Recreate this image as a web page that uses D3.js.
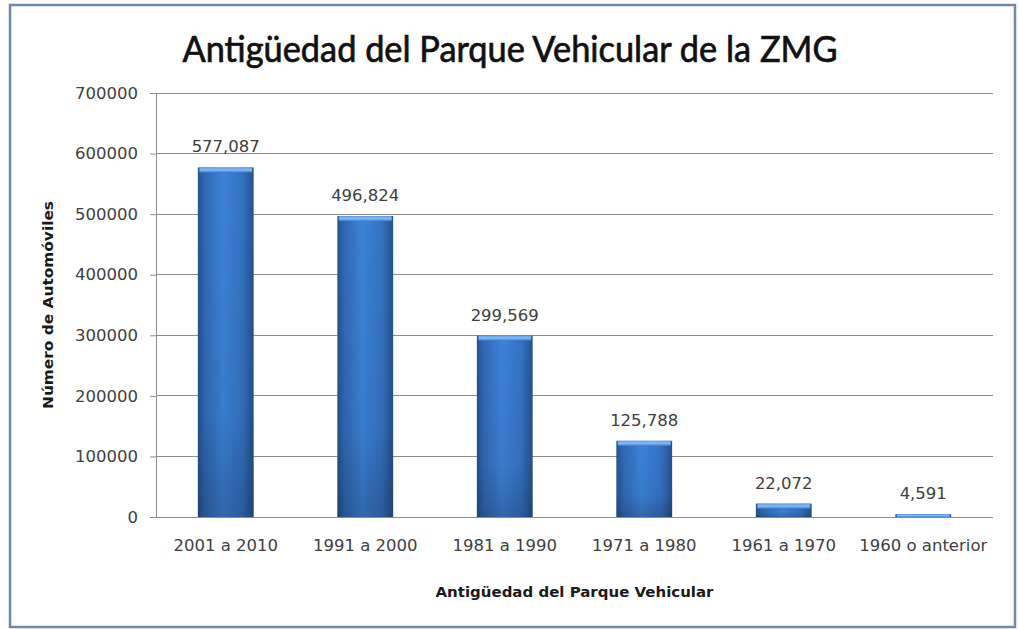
<!DOCTYPE html>
<html><head><meta charset="utf-8">
<script src="https://cdn.jsdelivr.net/npm/d3@7"></script>
<style>html,body{margin:0;padding:0;background:#fff;}svg{display:block;}</style>
</head><body>
<script>
const categories = ["2001 a 2010","1991 a 2000","1981 a 1990","1971 a 1980","1961 a 1970","1960 o anterior"];
const values = [577087, 496824, 299569, 125788, 22072, 4591];
const valueLabels = ["577,087","496,824","299,569","125,788","22,072","4,591"];
const yTicks = [0,100000,200000,300000,400000,500000,600000,700000];
const titleText = "Antigüedad del Parque Vehicular de la ZMG";
const xTitle = "Antigüedad del Parque Vehicular";
const yTitle = "Número de Automóviles";

(function(){
const W = 1019, H = 629;
const svg = d3.select("body").append("svg").attr("width", W).attr("height", H);
const defs = svg.append("defs");
const g1 = defs.append("linearGradient").attr("id","barg").attr("x1","0").attr("x2","1").attr("y1","0").attr("y2","0");
[["0%","#24528f"],["12%","#3068b3"],["45%","#3d82d8"],["80%","#3471c2"],["100%","#24528f"]].forEach(s=>g1.append("stop").attr("offset",s[0]).attr("stop-color",s[1]));
const g2 = defs.append("linearGradient").attr("id","shade").attr("x1","0").attr("x2","0").attr("y1","0").attr("y2","1");
[["0%","#000",0],["70%","#000",0.05],["100%","#000",0.2]].forEach(s=>g2.append("stop").attr("offset",s[0]).attr("stop-color",s[1]).attr("stop-opacity",s[2]));
const g3 = defs.append("linearGradient").attr("id","cap").attr("x1","0").attr("x2","0").attr("y1","0").attr("y2","1");
[["0%","#5f9be6"],["50%","#86bbf5"],["100%","#3d80d4"]].forEach(s=>g3.append("stop").attr("offset",s[0]).attr("stop-color",s[1]));

const FONT = "'DejaVu Sans', sans-serif";
const FS = 16.5;

// frame
svg.append("rect").attr("x",10).attr("y",5).attr("width",1005).attr("height",622)
  .attr("fill","#fff").attr("stroke","#7088ac").attr("stroke-width",2.5);

const pLeft = 156, pRight = 993, pTop = 93, pBottom = 517;
const x = d3.scaleBand().domain(categories).range([pLeft,pRight]).paddingInner(0.6).paddingOuter(0.3);
const y = d3.scaleLinear().domain([0,700000]).range([pBottom,pTop]);

// gridlines
svg.append("g").selectAll("line").data(yTicks.filter(d=>d>0)).join("line")
  .attr("x1",pLeft).attr("x2",pRight).attr("y1",d=>y(d)).attr("y2",d=>y(d))
  .attr("stroke","#8c8c8c").attr("stroke-width",1).attr("shape-rendering","crispEdges");

// y axis
const yAxis = svg.append("g").attr("transform",`translate(${pLeft},0)`)
  .call(d3.axisLeft(y).tickValues(yTicks).tickSize(6).tickPadding(12).tickFormat(d3.format("d")));
yAxis.select(".domain").attr("stroke","#8c8c8c");
yAxis.selectAll(".tick line").attr("stroke","#8c8c8c");
yAxis.selectAll("text").attr("font-family",FONT).attr("font-size",FS).attr("fill","#404040");

// x axis
const xAxis = svg.append("g").attr("transform",`translate(0,${pBottom})`)
  .call(d3.axisBottom(x).tickSize(0).tickPadding(22));
xAxis.select(".domain").attr("stroke","#8c8c8c").attr("d",`M${pLeft},0.5H${pRight}`);
xAxis.selectAll("text").attr("font-family",FONT).attr("font-size",FS).attr("fill","#404040");

// bars
const bars = svg.append("g").selectAll("g").data(values).join("g");
bars.append("rect").attr("x",(d,i)=>x(categories[i])).attr("y",d=>y(d))
  .attr("width",x.bandwidth()).attr("height",d=>pBottom-y(d)).attr("fill","url(#barg)");
bars.append("rect").attr("x",(d,i)=>x(categories[i])).attr("y",d=>y(d))
  .attr("width",x.bandwidth()).attr("height",d=>pBottom-y(d)).attr("fill","url(#shade)");
bars.append("rect").attr("x",(d,i)=>x(categories[i])+1.5).attr("y",d=>y(d))
  .attr("width",x.bandwidth()-3).attr("height",d=>Math.min(5,pBottom-y(d))).attr("fill","url(#cap)");

// value labels
svg.append("g").selectAll("text").data(values).join("text")
  .attr("x",(d,i)=>x(categories[i])+x.bandwidth()/2).attr("y",d=>y(d)-15)
  .attr("text-anchor","middle").attr("font-family",FONT).attr("font-size",FS).attr("fill","#404040")
  .text((d,i)=>valueLabels[i]);

// title
svg.append("text").attr("x",510).attr("y",62).attr("text-anchor","middle")
  .attr("font-family","Lato, sans-serif").attr("font-size",36).attr("fill","#111")
  .attr("stroke","#111").attr("stroke-width",0.7)
  .attr("textLength",655).attr("lengthAdjust","spacingAndGlyphs").text(titleText);

// axis titles
svg.append("text").attr("x",(pLeft+pRight)/2).attr("y",597).attr("text-anchor","middle")
  .attr("font-family",FONT).attr("font-weight","bold").attr("font-size",14.5).attr("fill","#1a1a1a")
  .attr("textLength",278).attr("lengthAdjust","spacingAndGlyphs").text(xTitle);
svg.append("text").attr("transform","translate(53,305) rotate(-90)").attr("text-anchor","middle")
  .attr("font-family",FONT).attr("font-weight","bold").attr("font-size",14).attr("fill","#1a1a1a")
  .attr("textLength",208).attr("lengthAdjust","spacingAndGlyphs").text(yTitle);
})();
</script>
</body></html>
